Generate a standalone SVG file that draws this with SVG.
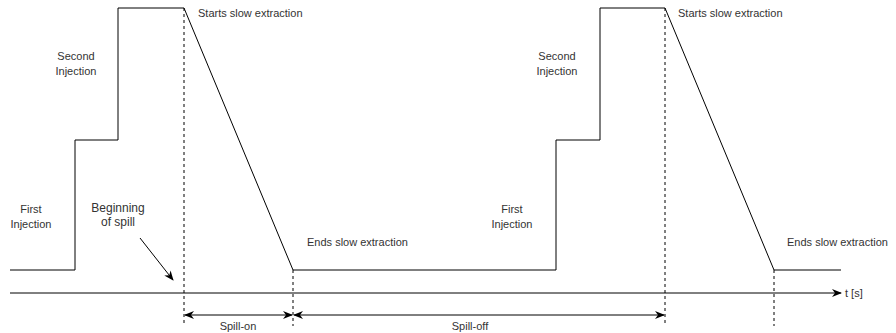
<svg xmlns="http://www.w3.org/2000/svg" width="896" height="333" viewBox="0 0 896 333">
  <style>
    .ln { fill: none; stroke: #000; stroke-width: 1; }
    .dash { fill: none; stroke: #000; stroke-width: 1; stroke-dasharray: 3 3; }
    .lbl { font-family: "Liberation Sans", Arial, sans-serif; font-size: 11px; fill: #333; }
    .mid { text-anchor: middle; }
  </style>
  <defs>
    <marker id="arr" viewBox="0 0 10 8" refX="9" refY="4" markerWidth="10" markerHeight="8" markerUnits="userSpaceOnUse" orient="auto-start-reverse">
      <path d="M0,0 L10,4 L0,8 L3,4 z" fill="#000"/>
    </marker>
  </defs>
  <rect width="896" height="333" fill="#fff"/>

  <!-- beam intensity profile, two cycles -->
  <g id="cycle1">
    <path class="ln" d="M10,270 H75 V140 H118 V8 H184 L293,270 H556"/>
  </g>
  <g id="cycle2">
    <path class="ln" d="M556,270 V140 H600 V8 H665 L774,270 H841"/>
  </g>

  <!-- time axis -->
  <g id="axis">
    <line class="ln" x1="10" y1="293" x2="841" y2="293" marker-end="url(#arr)"/>
    <text class="lbl" x="845" y="297">t [s]</text>
  </g>

  <!-- connectors: guides and spans -->
  <g id="connectors">
    <line class="dash" x1="184" y1="8" x2="184" y2="326"/>
    <line class="dash" x1="293" y1="270" x2="293" y2="326"/>
    <line class="dash" x1="665" y1="8" x2="665" y2="326"/>
    <line class="dash" x1="774" y1="270" x2="774" y2="326"/>
    <line class="ln" x1="185" y1="315" x2="292" y2="315" marker-start="url(#arr)" marker-end="url(#arr)"/>
    <line class="ln" x1="294" y1="315" x2="664" y2="315" marker-start="url(#arr)" marker-end="url(#arr)"/>
    <line class="ln" x1="140" y1="238" x2="173" y2="280" marker-end="url(#arr)"/>
  </g>

  <!-- labels -->
  <g id="labels1">
    <text class="lbl mid" x="31" y="213">First</text>
    <text class="lbl mid" x="31" y="228">Injection</text>
    <text class="lbl mid" x="76" y="60">Second</text>
    <text class="lbl mid" x="76" y="75">Injection</text>
    <text class="lbl" x="198" y="17">Starts slow extraction</text>
    <text class="lbl" x="307" y="246">Ends slow extraction</text>
    <text class="lbl mid" x="118" y="212" style="font-size:12px">Beginning</text>
    <text class="lbl mid" x="118" y="226" style="font-size:12px">of spill</text>
  </g>
  <g id="labels2">
    <text class="lbl mid" x="512" y="213">First</text>
    <text class="lbl mid" x="512" y="228">Injection</text>
    <text class="lbl mid" x="557" y="60">Second</text>
    <text class="lbl mid" x="557" y="75">Injection</text>
    <text class="lbl" x="678" y="17">Starts slow extraction</text>
    <text class="lbl" x="787" y="246">Ends slow extraction</text>
  </g>
  <g id="spans">
    <text class="lbl mid" x="238" y="330">Spill-on</text>
    <text class="lbl mid" x="470" y="330">Spill-off</text>
  </g>
</svg>
